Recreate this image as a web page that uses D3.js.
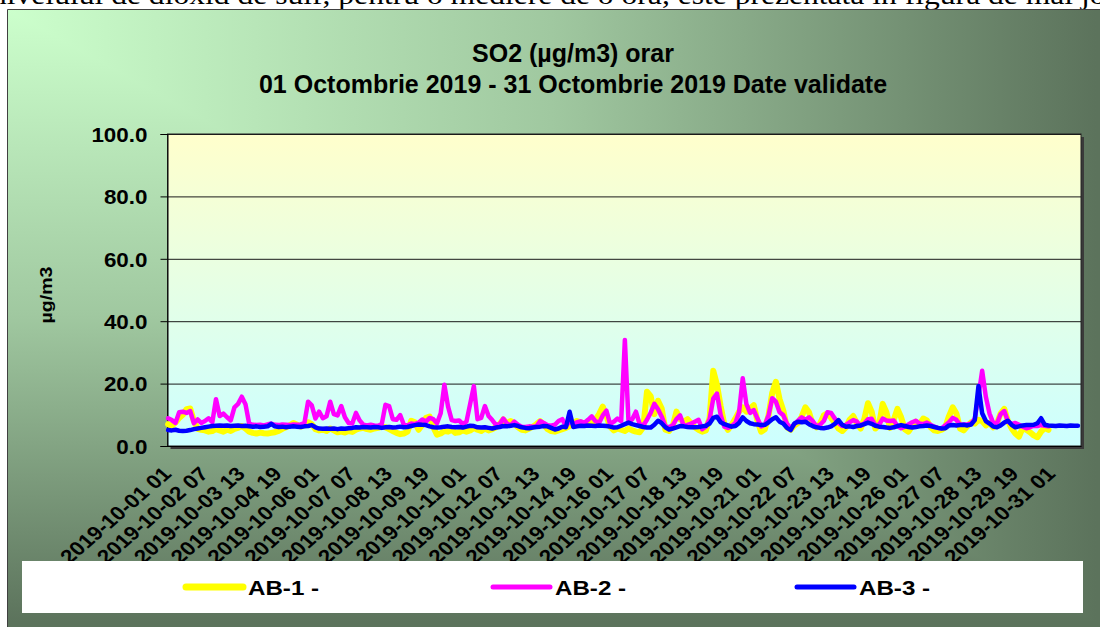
<!DOCTYPE html>
<html lang="ro">
<head>
<meta charset="UTF-8">
<title>SO2 orar</title>
<script src="https://d3js.org/d3.v7.min.js"></script>
<style>
  body { margin: 0; background: #fff; }
  svg { display: block; }
  text { font-family: "Liberation Sans", Arial, sans-serif; font-weight: bold; fill: #000; }
</style>
</head>
<body>
<svg id="chart" width="1100" height="627"></svg>
<script>
// hourly data, read every 3rd hour (2019-10-01 01 .. 2019-10-31 24)
const step = 3;
const ab1 = [7.0,6.5,7.5,9.0,10.0,11.8,12.0,8.0,5.5,5.2,5.0,4.6,4.8,5.4,5.0,4.6,5.2,4.8,5.5,5.8,
  6.4,5.6,4.6,4.2,4.0,4.3,4.1,4.0,4.2,4.4,4.8,5.5,6.0,6.6,7.4,6.8,6.2,6.6,7.6,7.0,
  5.4,5.0,5.2,4.8,5.6,5.0,4.4,4.6,4.3,4.8,4.5,5.2,5.6,5.8,5.4,5.2,5.6,5.8,6.2,6.0,
  5.4,4.8,4.2,3.8,4.0,4.6,8.1,7.6,5.2,6.8,9.0,9.4,6.0,3.6,4.0,4.8,4.6,5.2,4.2,4.4,
  5.0,4.6,5.0,5.8,5.2,4.8,5.6,5.0,5.4,6.0,7.0,8.5,7.2,8.0,7.2,6.0,5.2,5.0,5.6,6.2,
  7.0,8.0,6.8,5.4,4.8,4.6,5.0,5.4,5.8,6.4,7.4,8.0,7.6,7.0,6.8,7.4,8.4,10.2,12.6,9.6,
  6.2,5.0,5.6,5.2,4.8,5.6,5.0,4.6,4.4,6.0,17.4,16.0,10.2,14.5,12.0,5.2,4.8,6.4,11.0,8.6,
  7.8,8.6,7.2,6.0,5.2,4.6,5.0,9.0,24.1,19.6,12.8,7.0,5.2,6.8,8.8,11.0,12.4,11.0,12.0,13.1,
  8.0,4.6,5.4,9.8,17.0,20.6,15.0,11.4,6.0,5.2,6.6,7.4,9.4,12.4,10.8,7.0,6.0,7.2,9.8,10.5,
  9.0,7.4,5.6,4.8,6.0,8.4,9.6,7.2,5.6,8.6,13.7,11.0,5.6,6.8,13.5,10.8,5.8,8.4,11.9,9.2,
  5.4,4.6,6.4,7.8,7.0,8.8,8.2,6.0,5.0,4.8,5.2,6.0,9.6,12.4,10.4,5.6,5.0,6.4,7.6,7.2,
  8.4,8.0,6.6,7.4,6.0,7.2,10.4,11.9,8.0,5.6,4.0,3.0,5.8,5.2,4.4,3.4,2.8,4.6,5.8,5.2,
  null,null,null,null,null,null,null,null];
const ab2 = [8.9,8.3,7.4,10.8,11.0,10.6,11.2,7.3,8.5,7.4,8.0,8.9,7.6,15.0,9.6,10.4,9.2,8.2,12.4,13.5,
  15.8,13.4,7.2,6.8,6.7,6.8,6.6,6.9,7.2,6.8,6.7,6.9,6.8,6.7,6.9,6.8,6.9,7.3,14.2,13.0,
  8.8,11.0,8.9,9.5,14.2,10.2,9.8,12.8,9.2,7.4,7.2,10.6,8.2,6.8,6.6,6.8,6.6,6.5,7.0,13.2,
  12.8,8.6,8.4,9.9,6.8,6.6,7.2,7.0,7.5,8.5,7.8,9.0,8.6,7.3,10.5,19.6,12.6,8.3,8.0,8.2,
  7.0,7.8,13.5,19.2,8.6,9.0,12.8,9.6,8.3,6.8,7.0,8.8,7.2,6.6,7.8,6.8,6.2,6.1,6.3,6.2,
  6.3,8.0,7.4,6.7,6.5,6.8,8.0,8.6,6.4,7.9,7.2,7.6,7.9,7.4,8.4,9.5,8.0,7.4,9.8,11.3,
  7.0,7.8,8.8,8.0,34.0,7.6,8.6,11.0,7.0,6.6,8.4,10.6,13.5,11.8,9.4,6.4,6.0,6.7,8.6,9.8,
  6.4,6.8,7.2,7.8,8.4,5.4,6.2,8.6,15.2,16.8,10.0,6.2,5.8,6.4,7.4,10.8,21.7,13.4,10.6,11.5,
  8.8,6.3,6.8,9.8,15.3,14.2,10.8,9.9,7.2,5.7,7.0,8.1,9.2,8.4,9.2,8.0,6.3,6.8,8.0,10.8,
  10.6,8.8,7.4,6.4,6.8,7.6,8.3,7.8,6.5,7.2,8.6,8.7,6.6,6.8,8.8,8.2,8.0,8.2,6.4,5.7,
  6.2,6.9,7.6,8.1,7.2,7.0,7.5,6.8,6.2,5.8,5.7,6.6,7.6,9.0,8.4,6.8,6.9,7.0,7.2,8.8,
  16.0,24.1,15.8,10.4,7.4,7.2,10.2,11.2,7.9,7.0,7.4,6.8,6.2,5.7,6.0,6.5,6.4,6.7,6.5,6.3,
  null,null,null,null,null,null,null,null];
const ab3 = [5.1,5.0,5.2,4.9,4.8,4.9,5.1,5.4,5.6,5.8,6.0,6.2,6.4,6.5,6.6,6.5,6.6,6.4,6.5,6.6,
  6.4,6.5,6.3,6.2,6.3,6.1,6.2,6.3,7.1,6.3,6.1,6.2,6.0,6.2,6.3,6.2,6.1,6.3,6.4,6.7,
  6.0,5.6,5.5,5.6,5.5,5.6,5.4,5.6,5.5,5.7,5.8,6.0,5.9,6.1,6.0,5.9,6.1,6.0,5.8,6.0,
  6.1,5.9,6.0,6.2,6.0,6.1,6.4,6.7,6.9,6.8,6.7,6.3,6.0,5.9,6.0,6.2,6.3,6.1,6.0,6.1,
  5.9,6.2,6.5,6.4,6.0,5.9,6.0,5.8,5.6,5.9,6.1,6.4,6.3,6.5,6.7,6.4,6.0,5.8,5.7,5.9,
  6.1,6.2,6.4,6.3,5.8,5.3,5.6,6.2,6.0,11.0,6.1,6.3,6.5,6.4,6.6,6.5,6.4,6.6,6.5,6.4,
  6.2,5.9,6.0,6.5,7.0,7.5,7.0,6.7,6.4,6.1,5.9,5.9,6.8,8.1,7.3,6.0,5.3,5.6,6.0,6.4,
  6.3,6.1,6.0,6.0,6.1,6.3,6.5,7.2,9.0,9.4,7.6,7.0,6.6,6.2,6.4,7.4,9.2,8.0,7.3,7.0,
  6.9,6.7,6.8,7.6,8.6,9.2,7.8,7.2,5.8,5.1,7.2,7.8,7.6,7.8,7.0,6.4,6.0,5.8,5.7,5.9,
  6.3,7.1,8.3,6.8,6.2,6.3,6.1,6.4,6.6,7.0,7.5,7.1,6.5,6.2,6.1,5.9,5.8,6.0,6.4,6.7,
  6.4,6.1,5.9,6.1,6.3,6.4,6.6,6.4,6.1,5.8,5.6,5.7,6.6,6.7,6.6,6.7,6.8,6.6,6.9,8.3,
  19.2,10.5,8.0,7.2,6.2,6.0,6.6,7.5,8.1,6.8,6.0,6.3,6.6,6.7,6.7,6.8,7.3,8.9,6.8,6.6,
  6.5,6.4,6.6,6.5,6.4,6.6,6.5,6.5];

const totalHours = 744;
const tickHours = [0,30,60,90,120,150,180,210,240,270,300,330,360,390,420,450,480,510,540,570,600,630,660,690,720];
const tickLabels = ["2019-10-01 01","2019-10-02 07","2019-10-03 13","2019-10-04 19","2019-10-06 01",
  "2019-10-07 07","2019-10-08 13","2019-10-09 19","2019-10-11 01","2019-10-12 07","2019-10-13 13",
  "2019-10-14 19","2019-10-16 01","2019-10-17 07","2019-10-18 13","2019-10-19 19","2019-10-21 01",
  "2019-10-22 07","2019-10-23 13","2019-10-24 19","2019-10-26 01","2019-10-27 07","2019-10-28 13",
  "2019-10-29 19","2019-10-31 01"];
const yTicks = [0,20,40,60,80,100];
const seriesNames = ["AB-1 -","AB-2 -","AB-3 -"];
const seriesColors = ["#ffff00","#ff00ff","#0000ff"];
const seriesWidths = [6,4.5,4.5];

const svg = d3.select("#chart");
const sx = 1.15; // text in the picture is stretched wide

// cut-off sentence above the chart
svg.append("text")
  .attr("transform", "translate(-9,4) scale(1.17,1)")
  .style("font-family", "'Liberation Serif', 'Times New Roman', serif")
  .style("font-weight", "normal")
  .style("font-size", "27px")
  .text("nivelului de dioxid de sulf, pentru o mediere de o oră, este prezentată în figura de mai jos.");

const defs = svg.append("defs");
const frame = {x: 7.5, y: 9.5, w: 1100, h: 630};
// light corner top-left, darker towards right and bottom edges
const bgStops = [[0, "#ccffcc"], [0.5, "#a0c8a0"], [1, "#5c735c"]];
const gh = defs.append("linearGradient").attr("id", "bgh")
  .attr("gradientUnits", "userSpaceOnUse")
  .attr("x1", frame.x).attr("y1", 0).attr("x2", 1096).attr("y2", 0);
const gv = defs.append("linearGradient").attr("id", "bgv")
  .attr("gradientUnits", "userSpaceOnUse")
  .attr("x1", 0).attr("y1", frame.y).attr("x2", 0).attr("y2", 622);
bgStops.forEach(s => {
  gh.append("stop").attr("offset", s[0]).attr("stop-color", s[1]);
  gv.append("stop").attr("offset", s[0]).attr("stop-color", s[1]);
});
const pg = defs.append("linearGradient").attr("id", "pg")
  .attr("x1", 0).attr("y1", 0).attr("x2", 0).attr("y2", 1);
pg.append("stop").attr("offset", 0).attr("stop-color", "#ffffcc");
pg.append("stop").attr("offset", 1).attr("stop-color", "#ccffff");

// chart frame
svg.append("rect").attr("x", frame.x).attr("y", frame.y).attr("width", frame.w).attr("height", frame.h)
  .attr("fill", "url(#bgh)");
svg.append("path")
  .attr("d", `M${frame.x},${frame.y}L1096,622L${frame.x},622Z`)
  .attr("fill", "url(#bgv)");
svg.append("rect").attr("x", frame.x).attr("y", 622).attr("width", frame.w).attr("height", 10)
  .attr("fill", "#5c735c");
svg.append("line").attr("x1", frame.x).attr("x2", 1100).attr("y1", frame.y).attr("y2", frame.y)
  .attr("stroke", "#404040");
svg.append("line").attr("x1", frame.x).attr("x2", frame.x).attr("y1", frame.y).attr("y2", 627)
  .attr("stroke", "#404040");

const plot = {left: 167.5, top: 134, right: 1081, bottom: 446};
const x = d3.scaleLinear().domain([0, totalHours]).range([plot.left, plot.right]);
const y = d3.scaleLinear().domain([0, 100]).range([plot.bottom, plot.top]);

// plot area with shadow
svg.append("rect").attr("x", plot.left + 3).attr("y", plot.top + 3)
  .attr("width", plot.right - plot.left).attr("height", plot.bottom - plot.top)
  .attr("fill", "#3a3a3a");
svg.append("rect").attr("x", plot.left).attr("y", plot.top)
  .attr("width", plot.right - plot.left).attr("height", plot.bottom - plot.top)
  .attr("fill", "url(#pg)").attr("stroke", "#222").attr("stroke-width", 1);

// gridlines
svg.append("g")
  .attr("transform", `translate(${plot.left},0)`)
  .call(d3.axisLeft(y).tickValues(yTicks).tickSize(-(plot.right - plot.left)).tickFormat(""))
  .call(g => g.select(".domain").remove())
  .call(g => g.selectAll("line").attr("stroke", "#1a1a1a"));

// y axis
svg.append("g")
  .attr("transform", `translate(${plot.left},0)`)
  .call(d3.axisLeft(y).tickValues(yTicks).tickSize(7).tickPadding(0).tickFormat(d3.format(".1f")))
  .call(g => g.select(".domain").attr("stroke", "#000"))
  .call(g => g.selectAll("line").attr("stroke", "#000"))
  .call(g => g.selectAll("text")
    .attr("x", null)
    .attr("transform", `translate(-20,1) scale(${sx},1)`)
    .style("font-size", "19.5px").attr("font-family", null));

// x axis
svg.append("g")
  .attr("transform", `translate(0,${plot.bottom})`)
  .call(d3.axisBottom(x).tickValues(tickHours.map(h => h + 0.5)).tickSize(0)
    .tickFormat((d, i) => tickLabels[i]))
  .call(g => g.select(".domain").attr("stroke", "#000"))
  .call(g => g.selectAll("text")
    .attr("y", null).attr("dy", null)
    .attr("text-anchor", "end")
    .attr("transform", `translate(4,29) scale(${sx},1) rotate(-45)`)
    .style("font-size", "19.5px").attr("font-family", null));

// series
const line = d3.line()
  .defined(d => d != null)
  .x((d, i) => x(i * step + 0.5))
  .y(d => y(d));
[ab1, ab2, ab3].forEach((vals, s) => {
  svg.append("path")
    .datum(vals)
    .attr("fill", "none")
    .attr("stroke", seriesColors[s])
    .attr("stroke-width", seriesWidths[s])
    .attr("stroke-linejoin", "round")
    .attr("stroke-linecap", "round")
    .attr("d", line);
});

// titles
const title = svg.append("g").attr("transform", "translate(573,0)");
title.append("text").attr("y", 61.5)
  .attr("text-anchor", "middle").style("font-size", "25px").text("SO2 (µg/m3) orar");
title.append("text").attr("y", 92.5)
  .attr("text-anchor", "middle").style("font-size", "25px")
  .text("01 Octombrie 2019 - 31 Octombrie 2019 Date validate");

svg.append("text")
  .attr("transform", `translate(52,295) rotate(-90) scale(${sx},1)`)
  .attr("text-anchor", "middle").style("font-size", "17px").text("µg/m3");

// legend
svg.append("rect").attr("x", 22).attr("y", 561).attr("width", 1061).attr("height", 52)
  .attr("fill", "#fff");
const legendX = [186, 493, 797];
seriesNames.forEach((name, s) => {
  const lg = svg.append("g").attr("transform", `translate(${legendX[s]},587)`);
  lg.append("line").attr("x1", 0).attr("x2", 57).attr("y1", 0).attr("y2", 0)
    .attr("stroke", seriesColors[s]).attr("stroke-width", s === 0 ? 7 : 5)
    .attr("stroke-linecap", "round");
  lg.append("text").attr("transform", `translate(62,8) scale(${sx},1)`)
    .style("font-size", "21px").text(name);
});
</script>
</body>
</html>
